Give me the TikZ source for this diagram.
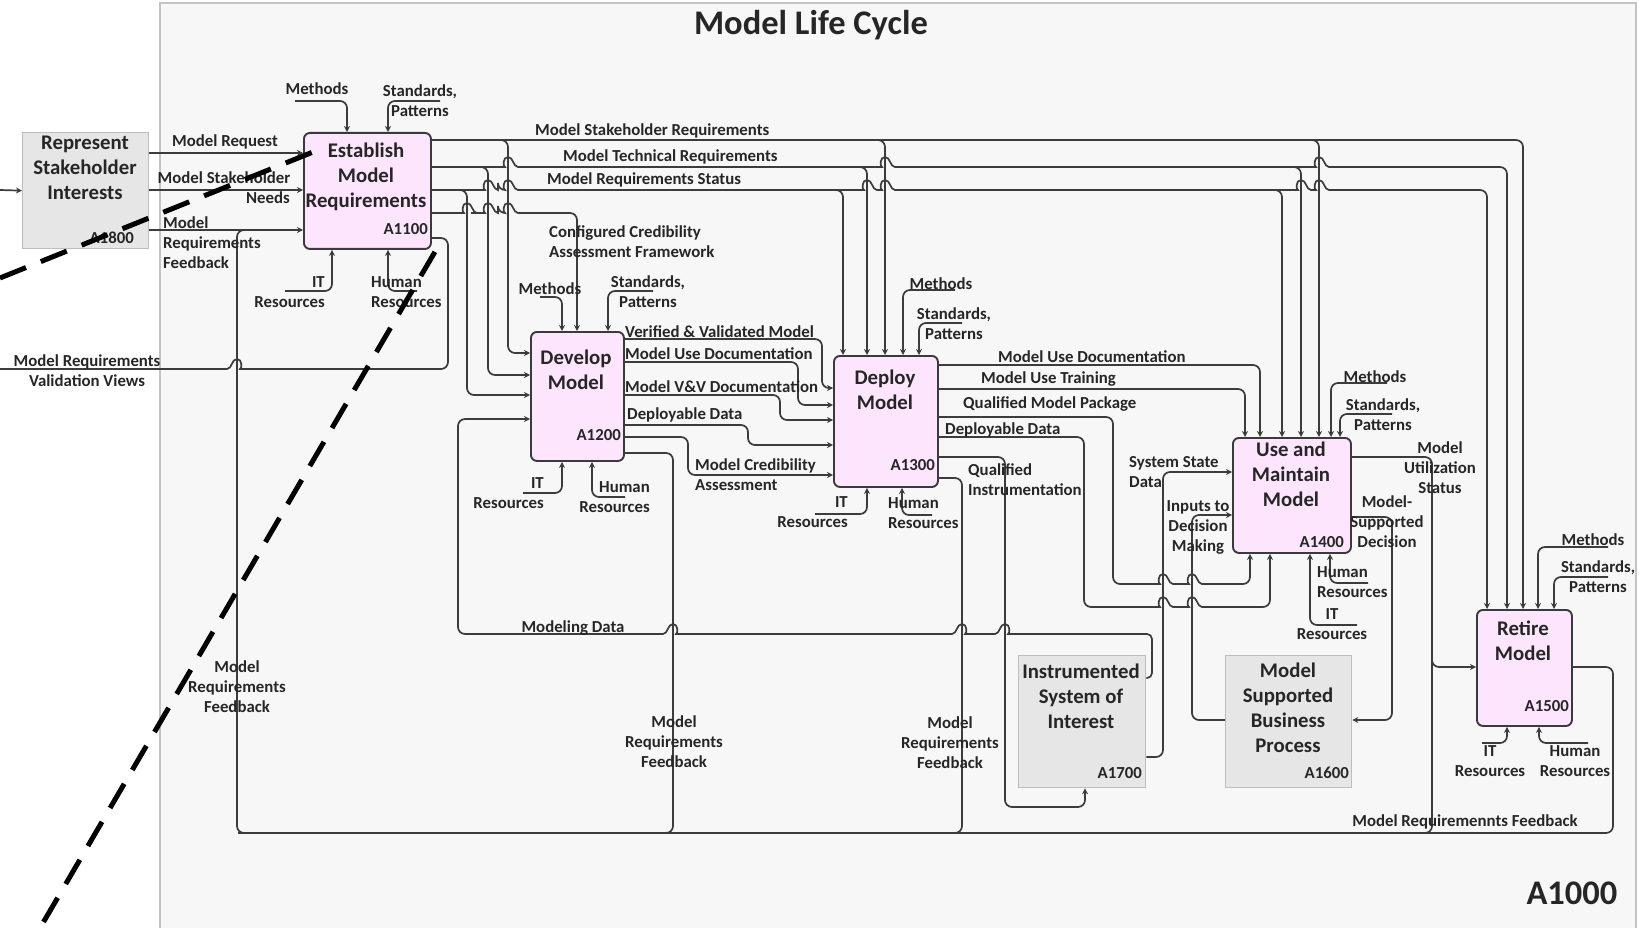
\documentclass[tikz,border=0pt]{standalone}
\usepackage{fontspec}
\setmainfont{Carlito}
\usetikzlibrary{arrows.meta}

\definecolor{procfill}{HTML}{FDE6FD}
\definecolor{procline}{HTML}{3A3A3A}
\definecolor{extfill}{HTML}{E6E6E6}
\definecolor{extline}{HTML}{BDBDBD}
\definecolor{flowline}{HTML}{3C3C3C}
\definecolor{inktext}{HTML}{262626}
\definecolor{sheetbg}{HTML}{F7F7F7}
\definecolor{sheetline}{HTML}{C4C4C4}

% line hop over a crossing vertical line, for horizontal lines running right / left
\newcommand\hopR[2]{-- (#1-10,#2) [sharp corners] .. controls (#1-5,#2) and (#1-5.5,#2-10) .. (#1,#2-10) .. controls (#1+5.5,#2-10) and (#1+5,#2) .. (#1+10,#2) [rounded corners=7pt]}
\newcommand\hopL[2]{-- (#1+10,#2) [sharp corners] .. controls (#1+5,#2) and (#1+5.5,#2-10) .. (#1,#2-10) .. controls (#1-5.5,#2-10) and (#1-5,#2) .. (#1-10,#2) [rounded corners=7pt]}

\begin{document}
\begin{tikzpicture}[x=1pt,y=-1pt,
  proc/.style={draw=procline, fill=procfill, rounded corners=6pt, line width=1.9pt, inner sep=0pt, anchor=north west},
  extbox/.style={draw=extline, fill=extfill, line width=1.3pt, inner sep=0pt, anchor=north west},
  link/.style={draw=flowline, line width=1.7pt, rounded corners=7pt},
  flow/.style={link, -{Stealth[length=6pt,width=6pt]}},
  lbl/.style={font=\bfseries\fontsize{16.8}{20}\selectfont, text=inktext, inner sep=0pt, align=center},
  lbll/.style={lbl, align=left, anchor=west},
  lblr/.style={lbl, align=right, anchor=east},
  ttl/.style={font=\bfseries\fontsize{20.8}{25}\selectfont, text=inktext, inner sep=0pt, align=center},
  boxid/.style={font=\bfseries\fontsize{16.8}{20}\selectfont, text=inktext, inner sep=0pt, anchor=east},
  big/.style={font=\bfseries\fontsize{34.5}{40}\selectfont, text=inktext, inner sep=0pt},
  zoomline/.style={line width=5pt, dash pattern=on 28pt off 16pt, black}
]
\useasboundingbox (0,0) rectangle (1639,928);
\clip (0,0) rectangle (1639,928);

% sheet
\fill[white] (0,0) rectangle (1639,928);
\draw[sheetline, fill=sheetbg, line width=1.8pt] (160,3) rectangle (1636,940);

\node[big] (title) at (811,25) {Model Life Cycle};
\node[big] (sheetid) at (1572,893) {A1000};

% activity boxes
\node[extbox, minimum width=126pt, minimum height=116pt] (A1800) at (22,132) {};
\node[proc, minimum width=127pt, minimum height=116pt] (A1100) at (303,132) {};
\node[proc, minimum width=93pt, minimum height=129pt] (A1200) at (530,331) {};
\node[proc, minimum width=104pt, minimum height=131pt] (A1300) at (833,355) {};
\node[proc, minimum width=118pt, minimum height=115pt] (A1400) at (1232,437) {};
\node[proc, minimum width=95pt, minimum height=116pt] (A1500) at (1476,609) {};
\node[extbox, minimum width=127pt, minimum height=132pt] (A1700) at (1018,655) {};
\node[extbox, minimum width=126pt, minimum height=132pt] (A1600) at (1225,655) {};

\node[ttl] (tA1800) at (85,168) {Represent\\Stakeholder\\Interests};
\node[boxid] (iA1800) at (134,238) {A1800};
\node[ttl] (tA1100) at (366,177) {Establish\\Model\\Requirements};
\node[boxid] (iA1100) at (428,229) {A1100};
\node[ttl] (tA1200) at (576,370) {Develop\\Model};
\node[boxid] (iA1200) at (621,435) {A1200};
\node[ttl] (tA1300) at (885,390) {Deploy\\Model};
\node[boxid] (iA1300) at (935,465) {A1300};
\node[ttl] (tA1400) at (1291,474) {Use and\\Maintain\\Model};
\node[boxid] (iA1400) at (1344,542) {A1400};
\node[ttl] (tA1500) at (1523,641) {Retire\\Model};
\node[boxid] (iA1500) at (1569,706) {A1500};
\node[ttl] (tA1700) at (1081,696) {Instrumented\\System of\\Interest};
\node[boxid] (iA1700) at (1142,773) {A1700};
\node[ttl] (tA1600) at (1288,708) {Model\\Supported\\Business\\Process};
\node[boxid] (iA1600) at (1349,773) {A1600};

% free ends of boundary arrows
\coordinate (extIn) at (0,190);
\coordinate (extOut) at (0,369);

% ---------- inputs to A1800 and A1100
\draw[flow] (extIn) -- (A1800.west);
\draw[flow] (A1800.east |- 0,153) -- (A1100.west |- 0,153);
\draw[flow] (A1800.east |- 0,190) -- (A1100.west |- 0,190);
\draw[flow] (A1800.east |- 0,230) -- (A1100.west |- 0,230);

% ---------- requirements feedback bus
\draw[flowline, line width=2.8pt] (1432,833) -- (238,833);
\draw[link] (250,833) -- (237,833) -- (237,230) -- (256,230);
\draw[link] (A1200.east |- 0,453) -- (673,453) -- (673,833) -- (660,833);
\draw[link] (A1300.east |- 0,478) -- (962,478) -- (962,833) -- (949,833);
\draw[link] (A1400.east |- 0,457) -- (1432,457) -- (1432,833) -- (1419,833);
\draw[link] (A1500.east |- 0,667) -- (1613,667) -- (1613,833) -- (1432,833);
\draw[flow] (1432,652) -- (1432,667) -- (A1500.west |- 0,667);

% ---------- A1100 outputs
\draw[link] (A1100.east |- 0,238) -- (448,238) -- (448,369) \hopL{237}{369} -- (extOut);
\draw[flow] (A1100.east |- 0,140) -- (1523,140) -- (1523,0 |- A1500.north);
\draw[flow] (495,140) -- (508,140) -- (508,353) -- (A1200.west |- 0,353);
\draw[flow] (872,140) -- (885,140) -- (885,0 |- A1300.north);
\draw[flow] (1306,140) -- (1319,140) -- (1319,0 |- A1400.north);

\draw[flow] (A1100.east |- 0,167) \hopR{508}{167} \hopR{885}{167} \hopR{1319}{167} -- (1507,167) -- (1507,0 |- A1500.north);
\draw[flow] (475,167) -- (488,167) -- (488,375) -- (A1200.west |- 0,375);
\draw[flow] (854,167) -- (867,167) -- (867,0 |- A1300.north);
\draw[flow] (1288,167) -- (1301,167) -- (1301,0 |- A1400.north);

\draw[flow] (A1100.east |- 0,190) \hopR{488}{190} \hopR{508}{190} \hopR{867}{190} \hopR{885}{190} \hopR{1301}{190} \hopR{1319}{190} -- (1487,190) -- (1487,0 |- A1500.north);
\draw[flow] (454,190) -- (467,190) -- (467,395) -- (A1200.west |- 0,395);
\draw[flow] (830,190) -- (843,190) -- (843,0 |- A1300.north);
\draw[flow] (1269,190) -- (1282,190) -- (1282,0 |- A1400.north);

\draw[flow] (A1100.east |- 0,213) \hopR{467}{213} \hopR{488}{213} \hopR{508}{213} -- (577,213) -- (577,0 |- A1200.north);

% ---------- A1100 controls and mechanisms
\draw[flow] (295,101) -- (347,101) -- (347,0 |- A1100.north);
\draw[flow] (440,101) -- (388,101) -- (388,0 |- A1100.north);
\draw[flow] (285,291) -- (332,291) -- (332,0 |- A1100.south);
\draw[flow] (417,291) -- (388,291) -- (388,0 |- A1100.south);

% ---------- A1200
\draw[flow] (540,297) -- (562,297) -- (562,0 |- A1200.north);
\draw[flow] (653,291) -- (608,291) -- (608,0 |- A1200.north);
\draw[flow] (523,493) -- (562,493) -- (562,0 |- A1200.south);
\draw[flow] (625,497) -- (592,497) -- (592,0 |- A1200.south);

\draw[flow] (A1200.east |- 0,339) -- (822,339) -- (822,388) -- (A1300.west |- 0,388);
\draw[flow] (A1200.east |- 0,362) -- (798,362) -- (798,405) -- (A1300.west |- 0,405);
\draw[flow] (A1200.east |- 0,395) -- (780,395) -- (780,420) -- (A1300.west |- 0,420);
\draw[flow] (A1200.east |- 0,425) -- (748,425) -- (748,445) -- (A1300.west |- 0,445);
\draw[flow] (A1200.east |- 0,437) -- (688,437) -- (688,475) -- (A1300.west |- 0,475);

% modeling data loop from A1700
\draw[flow] (A1700.east |- 0,678) [rounded corners=5pt] -- (1152,678) -- (1152,634) [rounded corners=7pt] \hopL{1005}{634} \hopL{962}{634} \hopL{673}{634} -- (458,634) -- (458,419) -- (A1200.west |- 0,419);

% ---------- A1300
\draw[flow] (955,290) -- (903,290) -- (903,0 |- A1300.north);
\draw[flow] (962,323) -- (919,323) -- (919,0 |- A1300.north);
\draw[flow] (815,514) -- (867,514) -- (867,0 |- A1300.south);
\draw[flow] (932,515) -- (902,515) -- (902,0 |- A1300.south);

\draw[flow] (A1300.east |- 0,365) -- (1260,365) -- (1260,0 |- A1400.north);
\draw[flow] (A1300.east |- 0,389) -- (1245,389) -- (1245,0 |- A1400.north);
\draw[flow] (A1300.east |- 0,417) -- (1113,417) -- (1113,584) \hopR{1163}{584} \hopR{1192}{584} -- (1250,584) -- (1250,0 |- A1400.south);
\draw[flow] (A1300.east |- 0,437) -- (1084,437) -- (1084,607) \hopR{1163}{607} \hopR{1192}{607} -- (1270,607) -- (1270,0 |- A1400.south);
\draw[flow] (A1300.east |- 0,457) -- (1005,457) -- (1005,807) -- (1085,807) -- (1085,0 |- A1700.south);

% ---------- A1400
\draw[flow] (A1700.east |- 0,757) -- (1163,757) -- (1163,472) -- (A1400.west |- 0,472);
\draw[flow] (A1600.west |- 0,720) -- (1192,720) -- (1192,515) -- (A1400.west |- 0,515);
\draw[flow] (A1400.east |- 0,517) -- (1392,517) -- (1392,720) -- (A1600.east |- 0,720);
\draw[flow] (1387,383) -- (1331,383) -- (1331,0 |- A1400.north);
\draw[flow] (1392,414) -- (1340,414) -- (1340,0 |- A1400.north);
\draw[flow] (1368,583) -- (1330,583) -- (1330,0 |- A1400.south);
\draw[flow] (1357,625) -- (1310,625) -- (1310,0 |- A1400.south);

% ---------- A1500
\draw[flow] (1608,547) -- (1538,547) -- (1538,0 |- A1500.north);
\draw[flow] (1608,577) -- (1554,577) -- (1554,0 |- A1500.north);
\draw[flow] (1482,743) -- (1507,743) -- (1507,0 |- A1500.south);
\draw[flow] (1588,743) -- (1539,743) -- (1539,0 |- A1500.south);

% ---------- labels
\node[lbl] (lReq) at (225,142) {Model Request};
\node[lbl] (lNeeds1) at (224,178) {Model Stakeholder};
\node[lbl, anchor=east] (lNeeds2) at (290,198) {Needs};
\node[lbll] (lFb0) at (163,243) {Model\\Requirements\\Feedback};
\node[lbl] (lVal) at (87,371) {Model Requirements\\Validation Views};

\node[lbl] (lM1100) at (317,89) {Methods};
\node[lbl] (lS1100) at (420,101) {Standards,\\Patterns};
\node[lblr] (lIT1100) at (325,292) {IT\\Resources};
\node[lbll] (lHR1100) at (371,292) {Human\\Resources};

\node[lbll] (lSR) at (535,131) {Model Stakeholder Requirements};
\node[lbll] (lTR) at (563,157) {Model Technical Requirements};
\node[lbll] (lRS) at (547,180) {Model Requirements Status};
\node[lbll] (lCC) at (549,242) {Configured Credibility\\Assessment Framework};

\node[lbl] (lM1200) at (550,289) {Methods};
\node[lbl] (lS1200) at (648,292) {Standards,\\Patterns};
\node[lblr] (lIT1200) at (544,493) {IT\\Resources};
\node[lblr] (lHR1200) at (650,497) {Human\\Resources};

\node[lbll] (lVV) at (625,332) {Verified \& Validated Model};
\node[lbll] (lUD1) at (625,354) {Model Use Documentation};
\node[lbll] (lVD) at (625,387) {Model V\&V Documentation};
\node[lbll] (lDD1) at (627,415) {Deployable Data};
\node[lbll] (lCA) at (695,475) {Model Credibility\\Assessment};
\node[lbl] (lFb1) at (674,742) {Model\\Requirements\\Feedback};
\node[lbl] (lMD) at (573,628) {Modeling Data};
\node[lbl] (lFb0b) at (237,687) {Model\\Requirements\\Feedback};

\node[lbl] (lM1300) at (941,284) {Methods};
\node[lbl] (lS1300) at (954,324) {Standards,\\Patterns};
\node[lblr] (lIT1300) at (848,512) {IT\\Resources};
\node[lbll] (lHR1300) at (888,513) {Human\\Resources};

\node[lbll] (lUD2) at (998,357) {Model Use Documentation};
\node[lbll] (lUT) at (981,379) {Model Use Training};
\node[lbll] (lQMP) at (963,404) {Qualified Model Package};
\node[lbll] (lDD2) at (945,430) {Deployable Data};
\node[lbll] (lQI) at (968,480) {Qualified\\Instrumentation};
\node[lbl] (lFb2) at (950,743) {Model\\Requirements\\Feedback};

\node[lbll] (lSSD) at (1129,472) {System State\\Data};
\node[lbl] (lIDM) at (1198,527) {Inputs to\\Decision\\Making};
\node[lbl] (lM1400) at (1375,377) {Methods};
\node[lbl] (lS1400) at (1383,415) {Standards,\\Patterns};
\node[lbl] (lMUS) at (1440,468) {Model\\Utilization\\Status};
\node[lbl] (lMSD) at (1387,522) {Model-\\Supported\\Decision};
\node[lbll] (lHR1400) at (1317,582) {Human\\Resources};
\node[lbl] (lIT1400) at (1332,624) {IT\\Resources};

\node[lbl] (lM1500) at (1593,540) {Methods};
\node[lbl] (lS1500) at (1598,577) {Standards,\\Patterns};
\node[lbl] (lIT1500) at (1490,761) {IT\\Resources};
\node[lbl] (lHR1500) at (1575,761) {Human\\Resources};
\node[lbl] (lFb3) at (1465,822) {Model Requiremennts Feedback};

% ---------- zoom lines from the parent diagram
\draw[zoomline] (0,278) -- ([shift={(20,16)}]A1100.north west);
\draw[zoomline] ([shift={(3,2)}]A1100.south east) -- (40,928);
\end{tikzpicture}
\end{document}
